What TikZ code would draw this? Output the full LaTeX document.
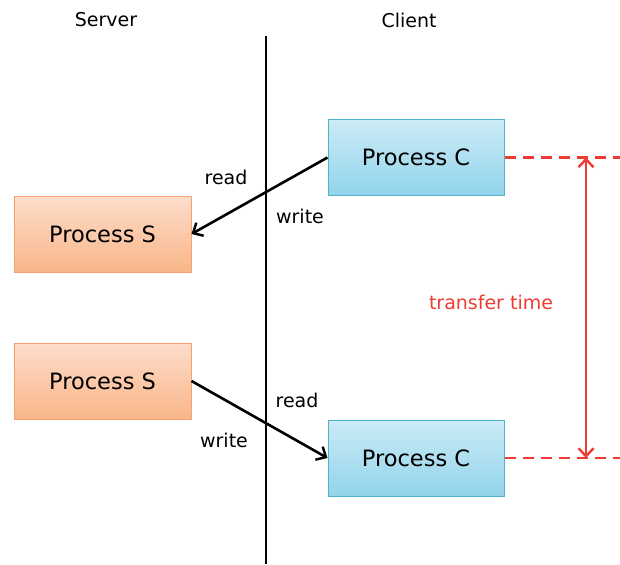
\documentclass[tikz,border=0pt]{standalone}
\usepackage{fontspec}
\setmainfont{DejaVu Sans}
\usetikzlibrary{arrows.meta}
\definecolor{sfill1}{HTML}{FDDDCB}
\definecolor{sfill2}{HTML}{F9B689}
\definecolor{sborder}{HTML}{F7A26A}
\definecolor{cfill1}{HTML}{CBEBF6}
\definecolor{cfill2}{HTML}{92D4EB}
\definecolor{cborder}{HTML}{4FB3CC}
\definecolor{tred}{HTML}{EE3B33}
\tikzset{
  sbox/.style={draw=sborder, line width=1pt, top color=sfill1, bottom color=sfill2, minimum width=177pt, minimum height=76pt, inner sep=0pt, font=\fontsize{22.5pt}{26pt}\selectfont},
  cbox/.style={draw=cborder, line width=1pt, top color=cfill1, bottom color=cfill2, minimum width=176pt, minimum height=76pt, inner sep=0pt, font=\fontsize{22.5pt}{26pt}\selectfont},
  lbl/.style={font=\fontsize{19pt}{22pt}\selectfont, inner sep=0pt},
  flow/.style={line width=2.6pt, -{Straight Barb[length=8pt,width=15pt,line width=2.4pt]}},
  redd/.style={tred, line width=2.8pt, dash pattern=on 11pt off 7pt}
}
\begin{document}
\begin{tikzpicture}[x=1pt,y=-1pt]
\useasboundingbox (0,0) rectangle (620,564);
\node[lbl] (server) at (106,20) {Server};
\node[lbl] (client) at (409,20) {Client};
\coordinate (vtop) at (266,36);
\coordinate (vbot) at (266,564);
\draw[line width=2.8pt] (vtop) -- (vbot);
\node[cbox] (c1) at (416,157.5) {Process C};
\node[sbox] (s1) at (102.5,234) {Process S};
\node[sbox] (s2) at (102.5,381) {Process S};
\node[cbox] (c2) at (416,458) {Process C};
\draw[flow] (c1.west) -- (s1.east);
\draw[flow] (s2.east) -- (c2.west);
\node[lbl] (r1) at (226,177) {read};
\node[lbl] (w1) at (300,216) {write};
\node[lbl] (r2) at (297,400) {read};
\node[lbl] (w2) at (224,440) {write};
\coordinate (e1) at (620,157.5);
\coordinate (e2) at (620,458);
\coordinate (a1) at (586,157.5);
\coordinate (a2) at (586,458);
\draw[redd] (c1.east) -- (e1);
\draw[redd] (c2.east) -- (e2);
\draw[tred, line width=2.8pt, {Straight Barb[length=8pt,width=15pt,line width=2.4pt]}-{Straight Barb[length=8pt,width=15pt,line width=2.4pt]}] (a1) -- (a2);
\node[lbl, text=tred] (tt) at (491,302) {transfer time};
\end{tikzpicture}
\end{document}
